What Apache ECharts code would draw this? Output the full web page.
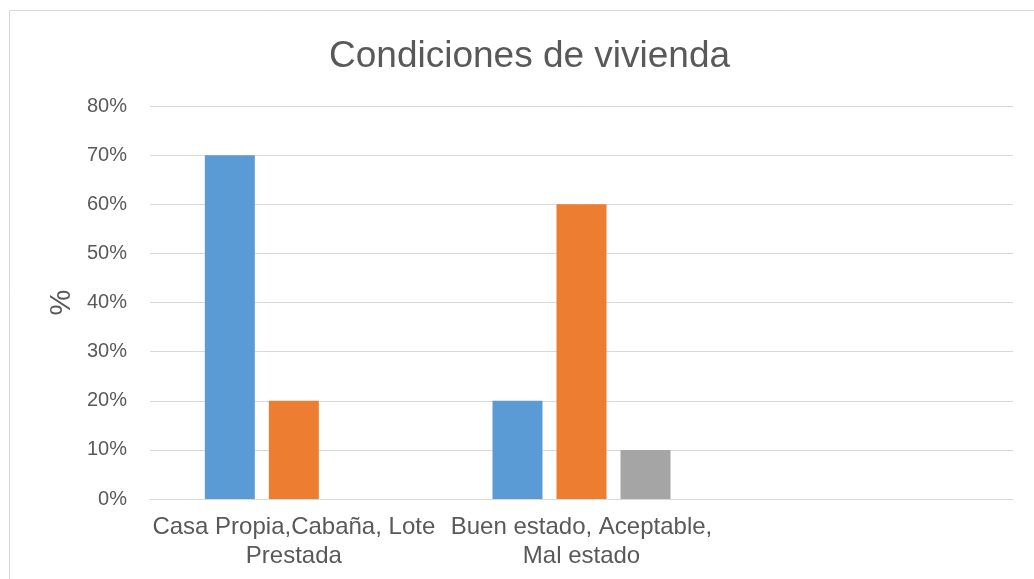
<!DOCTYPE html>
<html lang="es">
<head>
	<meta charset="UTF-8">
	<title>Condiciones de vivienda</title>
	<script src="https://cdn.jsdelivr.net/npm/echarts@6/dist/echarts.min.js"></script>
	<style>
		html, body { margin: 0; padding: 0; background: #fff; }
		#main { width: 1034px; height: 579px; }
	</style>
</head>
<body>
	<div id="main"></div>
<script>
	// datos
	var categorias = ['Casa Propia,Cabaña, Lote\nPrestada', 'Buen estado, Aceptable,\nMal estado', ''];
	var serie1 = [0.70, 0.20, null];
	var serie2 = [0.20, 0.60, null];
	var serie3 = [0, 0.10, null];
	var colores = ['#5b9bd5', '#ed7d31', '#a5a5a5'];

	var myChart = echarts.init(document.getElementById('main'));
	var fuente = '"Liberation Sans", Arial, sans-serif';

	var option = {
		animation: false,
		color: colores,
		textStyle: { fontFamily: fuente },
		title: {
			text: 'Condiciones de vivienda',
			left: 324,
			top: 33,
			textStyle: { fontSize: 37, fontWeight: 'normal', color: '#595959', fontFamily: fuente }
		},
		// marco del area del grafico
		graphic: [{
			type: 'rect',
			shape: { x: 9.5, y: 10.5, width: 1040, height: 600 },
			style: { fill: null, stroke: '#d9d9d9', lineWidth: 1 },
			silent: true
		}],
		grid: { left: 150, right: 21, top: 106, bottom: 80 },
		xAxis: {
			type: 'category',
			data: categorias,
			axisLine: { lineStyle: { color: '#d9d9d9' } },
			axisTick: { show: false },
			axisLabel: {
				interval: 0,
				color: '#595959',
				fontSize: 24,
				lineHeight: 29,
				margin: 14,
				fontFamily: fuente
			}
		},
		yAxis: {
			type: 'value',
			min: 0,
			max: 0.8,
			interval: 0.1,
			name: '%',
			nameLocation: 'middle',
			nameGap: 73,
			nameTextStyle: { fontSize: 29, color: '#595959', fontFamily: fuente },
			axisLine: { show: false },
			axisTick: { show: false },
			splitLine: { lineStyle: { color: '#d9d9d9' } },
			axisLabel: {
				color: '#595959',
				fontSize: 20,
				margin: 23,
				fontFamily: fuente,
				formatter: function (v) { return Math.round(v * 100) + '%'; }
			}
		},
		series: [
			{ type: 'bar', data: serie1, barWidth: 50, barGap: '28%' },
			{ type: 'bar', data: serie2, barWidth: 50, barGap: '28%' },
			{ type: 'bar', data: serie3, barWidth: 50, barGap: '28%' }
		]
	};

	myChart.setOption(option);
</script>
</body>
</html>
